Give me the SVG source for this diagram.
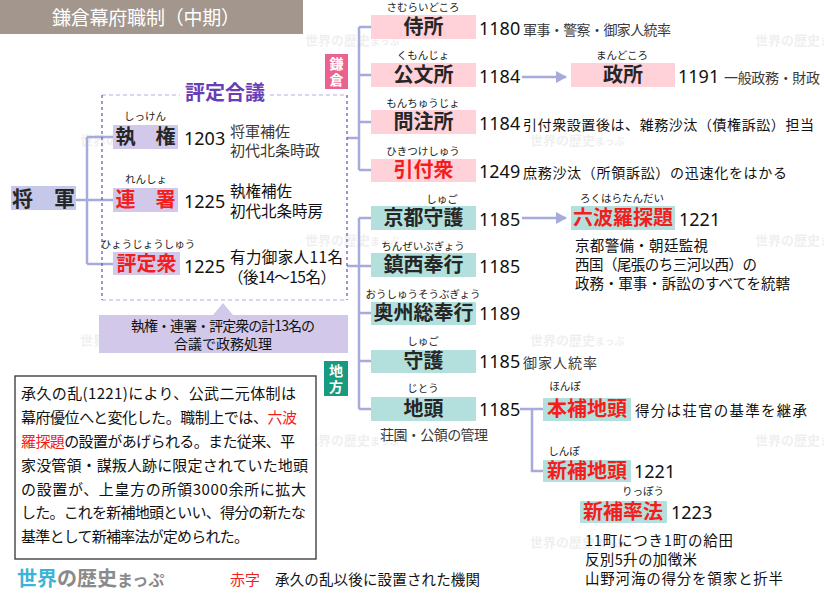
<svg xmlns="http://www.w3.org/2000/svg" width="824" height="597" viewBox="0 0 824 597">
<style>
text{font-family:"Noto Sans CJK JP","Noto Sans",sans-serif}
.lbl{font-size:20px;font-weight:bold;fill:#262626;text-anchor:middle}
.red{fill:#f51c1c}
.ruby{font-size:10.5px;fill:#222;text-anchor:middle}
.num{font-family:"Noto Sans","Open Sans",sans-serif;font-size:18px;fill:#111}
.desc{font-size:14px;fill:#3a3a3a}
.blk{font-size:14.5px;fill:#111}
.pink{fill:#ffd1d9}
.teal{fill:#b3e0dc}
.pur{fill:#d2c9ea}
.conn{stroke:#a7abdc;stroke-width:2.5;fill:none}
.wm{font-size:13px;font-weight:bold;fill:#000;opacity:0.06}
.wm2{font-size:10px}
.body{font-size:15px;fill:#111}
</style>
<defs>
<marker id="ah" markerWidth="12" markerHeight="12" refX="10" refY="6" orient="auto" markerUnits="userSpaceOnUse">
<path d="M0,0 L11,6 L0,12 Z" fill="#a7abdc"/>
</marker>
</defs>
<rect width="824" height="597" fill="#fff"/>
<g id="watermarks">
<text class="wm" x="305" y="45">世界の歴史<tspan class="wm2">まっぷ</tspan></text>
<text class="wm" x="755" y="45">世界の歴史<tspan class="wm2">まっぷ</tspan></text>
<text class="wm" x="80" y="145">世界の歴史<tspan class="wm2">まっぷ</tspan></text>
<text class="wm" x="530" y="145">世界の歴史<tspan class="wm2">まっぷ</tspan></text>
<text class="wm" x="305" y="245">世界の歴史<tspan class="wm2">まっぷ</tspan></text>
<text class="wm" x="755" y="245">世界の歴史<tspan class="wm2">まっぷ</tspan></text>
<text class="wm" x="80" y="345">世界の歴史<tspan class="wm2">まっぷ</tspan></text>
<text class="wm" x="530" y="345">世界の歴史<tspan class="wm2">まっぷ</tspan></text>
<text class="wm" x="305" y="445">世界の歴史<tspan class="wm2">まっぷ</tspan></text>
<text class="wm" x="755" y="445">世界の歴史<tspan class="wm2">まっぷ</tspan></text>
<text class="wm" x="80" y="547">世界の歴史<tspan class="wm2">まっぷ</tspan></text>
<text class="wm" x="530" y="547">世界の歴史<tspan class="wm2">まっぷ</tspan></text>
</g>
<g id="title">
<rect x="0" y="0" width="303" height="34" fill="#a2968d"/>
<text x="52" y="25" font-size="19" fill="#fff" textLength="188">鎌倉幕府職制（中期）</text>
</g>
<g id="connectors">
<path class="conn" d="M76,200 H113 M87,137 V264 M87,137 H113 M87,264 H113"/>
<path class="conn" d="M347,138 H359 M359,27 V170 M359,27 H371 M359,75 H371 M359,122 H371 M359,170 H371"/>
<path class="conn" d="M347,266 H371 M359,218 V409 M359,218 H371 M359,313 H371 M359,361 H371 M359,409 H371"/>
<path class="conn" d="M522,77 H566" marker-end="url(#ah)"/>
<path class="conn" d="M522,218 H566" marker-end="url(#ah)"/>
<path class="conn" d="M520,409 H543 M532,409 V471 H543"/>
</g>
<g id="hyojo-gougi">
<path d="M102,95 H347 M102,300 H347" stroke="#b7a9e6" stroke-width="1.2" stroke-dasharray="4,3" fill="none"/>
<path d="M102,95 V300 M347,95 V300" stroke="#6a4bb8" stroke-width="1.2" stroke-dasharray="3,3" fill="none"/>
<rect x="180" y="80" width="90" height="24" fill="#fff"/>
<text x="225" y="100" font-size="20" font-weight="bold" fill="#6a3db5" text-anchor="middle">評定合議</text>
</g>
<g id="shogun">
<rect x="11" y="186" width="65" height="24" fill="#c5c8e8"/>
<text class="lbl" x="43.5" y="206" font-size="22" style="font-size:21px">将　軍</text>
</g>
<g id="shikken">
<rect class="pur" x="113" y="125" width="65" height="24"/>
<text class="ruby" x="145" y="120">しっけん</text>
<text class="lbl" x="145.5" y="144">執　権</text>
<text class="num" x="184" y="145">1203</text>
<text class="desc" x="230" y="137" style="font-size:15px" fill="#555">将軍補佐</text>
<text class="desc" x="230" y="156" style="font-size:15px" fill="#555">初代北条時政</text>
</g>
<g id="rensho">
<rect class="pur" x="113" y="188" width="65" height="24"/>
<text class="ruby" x="146" y="183">れんしょ</text>
<text class="lbl red" x="145.5" y="207">連　署</text>
<text class="num" x="184" y="208">1225</text>
<text class="blk" x="230" y="197" style="font-size:15.5px">執権補佐</text>
<text class="blk" x="230" y="217" style="font-size:15.5px">初代北条時房</text>
</g>
<g id="hyojoshu">
<rect class="pur" x="113" y="252" width="67" height="23"/>
<text class="ruby" x="148" y="248">ひょうじょうしゅう</text>
<text class="lbl red" x="146.5" y="271">評定衆</text>
<text class="num" x="184" y="273">1225</text>
<text class="blk" x="230" y="263" textLength="113" style="font-size:15.5px">有力御家人11名</text>
<text class="blk" x="228" y="283" textLength="108" style="font-size:15.5px">（後14〜15名）</text>
</g>
<g id="callout">
<path d="M99,315 H213 L223,303 L233,315 H348 V353 H99 Z" fill="#d2c9ea"/>
<text x="223" y="331" font-size="14" fill="#111" text-anchor="middle" textLength="184">執権・連署・評定衆の計13名の</text>
<text x="223" y="349" font-size="14" fill="#111" text-anchor="middle">合議で政務処理</text>
</g>
<g id="kamakura-tag">
<rect x="325" y="54" width="23" height="35" fill="#ea6390"/>
<text x="336.5" y="69" font-size="14" font-weight="bold" fill="#fff" text-anchor="middle">鎌</text>
<text x="336.5" y="85" font-size="14" font-weight="bold" fill="#fff" text-anchor="middle">倉</text>
</g>
<g id="chiho-tag">
<rect x="324" y="361" width="24" height="35" fill="#169a80"/>
<text x="336" y="376" font-size="14" font-weight="bold" fill="#fff" text-anchor="middle">地</text>
<text x="336" y="392" font-size="14" font-weight="bold" fill="#fff" text-anchor="middle">方</text>
</g>
<g id="samuraidokoro">
<rect class="pink" x="371" y="15" width="105" height="24"/>
<text class="ruby" x="423" y="11">さむらいどころ</text>
<text class="lbl" x="423.5" y="34">侍所</text>
<text class="num" x="479" y="35">1180</text>
<text class="desc" x="523" y="35" textLength="148">軍事・警察・御家人統率</text>
</g>
<g id="kumonjo">
<rect class="pink" x="371" y="63" width="105" height="24"/>
<text class="ruby" x="423" y="59">くもんじょ</text>
<text class="lbl" x="423.5" y="82">公文所</text>
<text class="num" x="479" y="83">1184</text>
</g>
<g id="mandokoro">
<rect class="pink" x="571" y="63" width="104" height="24"/>
<text class="ruby" x="622" y="59">まんどころ</text>
<text class="lbl" x="623" y="82">政所</text>
<text class="num" x="678" y="83">1191</text>
<text class="desc" x="724" y="83" textLength="96">一般政務・財政</text>
</g>
<g id="monchujo">
<rect class="pink" x="371" y="110" width="105" height="24"/>
<text class="ruby" x="423" y="107">もんちゅうじょ</text>
<text class="lbl" x="423.5" y="129">問注所</text>
<text class="num" x="479" y="130">1184</text>
<text class="desc" x="523" y="130" textLength="291" style="fill:#111">引付衆設置後は、雑務沙汰（債権訴訟）担当</text>
</g>
<g id="hikitsukeshu">
<rect class="pink" x="371" y="159" width="105" height="23"/>
<text class="ruby" x="423" y="155">ひきつけしゅう</text>
<text class="lbl red" x="423.5" y="177">引付衆</text>
<text class="num" x="479" y="178">1249</text>
<text class="desc" x="523" y="178" textLength="264" style="fill:#111">庶務沙汰（所領訴訟）の迅速化をはかる</text>
</g>
<g id="kyoto-shugo">
<rect class="teal" x="371" y="206" width="105" height="24"/>
<text class="ruby" x="442" y="203">しゅご</text>
<text class="lbl" x="423.5" y="225">京都守護</text>
<text class="num" x="479" y="226">1185</text>
</g>
<g id="rokuhara">
<rect class="teal" x="571" y="206" width="104" height="24"/>
<text class="ruby" x="622" y="202">ろくはらたんだい</text>
<text class="lbl red" x="623" y="225">六波羅探題</text>
<text class="num" x="679" y="226">1221</text>
<text class="blk" x="575" y="251" textLength="133">京都警備・朝廷監視</text>
<text class="blk" x="575" y="270" textLength="182">西国（尾張のち三河以西）の</text>
<text class="blk" x="575" y="289" textLength="215">政務・軍事・訴訟のすべてを統轄</text>
</g>
<g id="chinzei">
<rect class="teal" x="371" y="253" width="105" height="24"/>
<text class="ruby" x="423" y="250">ちんぜいぶぎょう</text>
<text class="lbl" x="423.5" y="272">鎮西奉行</text>
<text class="num" x="479" y="273">1185</text>
</g>
<g id="oshu">
<rect class="teal" x="371" y="302" width="105" height="23"/>
<text class="ruby" x="423" y="298">おうしゅうそうぶぎょう</text>
<text class="lbl" x="423.5" y="320">奥州総奉行</text>
<text class="num" x="479" y="320">1189</text>
</g>
<g id="shugo">
<rect class="teal" x="371" y="350" width="105" height="23"/>
<text class="ruby" x="423" y="345">しゅご</text>
<text class="lbl" x="423.5" y="368">守護</text>
<text class="num" x="479" y="368">1185</text>
<text class="desc" x="523" y="368" textLength="74">御家人統率</text>
</g>
<g id="jito">
<rect class="teal" x="371" y="397" width="105" height="24"/>
<text class="ruby" x="423" y="392">じとう</text>
<text class="lbl" x="423.5" y="416">地頭</text>
<text class="num" x="479" y="416">1185</text>
<text class="desc" x="380" y="440" textLength="108">荘園・公領の管理</text>
</g>
<g id="honpo-jito">
<rect class="teal" x="543" y="398" width="88" height="23"/>
<text class="ruby" x="565" y="390">ほんぽ</text>
<text class="lbl red" x="587" y="416">本補地頭</text>
<text class="blk" x="635" y="416" textLength="172">得分は荘官の基準を継承</text>
</g>
<g id="shinpo-jito">
<rect class="teal" x="543" y="460" width="88" height="22"/>
<text class="ruby" x="564" y="455">しんぽ</text>
<text class="lbl red" x="587" y="478">新補地頭</text>
<text class="num" x="634" y="478">1221</text>
</g>
<g id="shinpo-rippo">
<rect class="teal" x="580" y="501" width="87" height="22"/>
<text class="ruby" x="643" y="495">りっぽう</text>
<text class="lbl red" x="623" y="519">新補率法</text>
<text class="num" x="671" y="519">1223</text>
<text class="blk" x="585" y="546" textLength="148">11町につき1町の給田</text>
<text class="blk" x="585" y="565" textLength="112">反別5升の加徴米</text>
<text class="blk" x="585" y="584" textLength="198">山野河海の得分を領家と折半</text>
</g>
<g id="note">
<rect x="15" y="376" width="301" height="183" fill="#fff" stroke="#333" stroke-width="1.3"/>
<text class="body" x="21" y="399" textLength="275">承久の乱(1221)により、公武二元体制は</text>
<text class="body" x="21" y="423" textLength="276">幕府優位へと変化した。職制上では、<tspan fill="#f51c1c">六波</tspan></text>
<text class="body" x="21" y="447" textLength="274"><tspan fill="#f51c1c">羅探題</tspan>の設置があげられる。また従来、平</text>
<text class="body" x="21" y="471" textLength="287">家没管領・謀叛人跡に限定されていた地頭</text>
<text class="body" x="21" y="495" textLength="285">の設置が、上皇方の所領3000余所に拡大</text>
<text class="body" x="21" y="518" textLength="285">した。これを新補地頭といい、得分の新たな</text>
<text class="body" x="21" y="542" textLength="228">基準として新補率法が定められた。</text>
</g>
<g id="logo">
<text x="17" y="586" font-size="20" font-weight="bold" fill="#8a8a8a"><tspan fill="#3cb4d8">世界</tspan>の歴史<tspan font-size="16">まっぷ</tspan></text>
</g>
<g id="legend">
<text x="230" y="585" font-size="15" fill="#f51c1c">赤字</text>
<text x="275" y="585" font-size="14.5" fill="#111" textLength="205">承久の乱以後に設置された機関</text>
</g>
</svg>
